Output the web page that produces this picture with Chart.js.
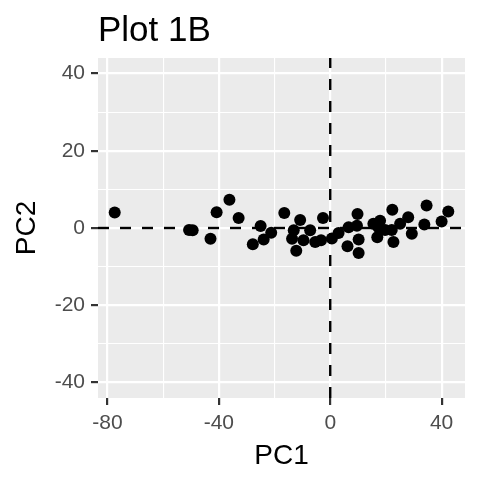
<!DOCTYPE html>
<html>
<head>
<meta charset="utf-8">
<script src="https://cdn.jsdelivr.net/npm/chart.js@4"></script>
<style>
  html, body { margin: 0; padding: 0; background: #fff; }
  #wrap { width: 480px; height: 480px; }
</style>
</head>
<body>
<div id="wrap"><canvas id="c" width="480" height="480"></canvas></div>
<script>
// scores
const pc1 = [-77.4, -50.7, -49.4, -43.0, -40.8, -36.2, -32.9, -27.8, -25.0, -23.9, -21.2,
  -16.5, -10.8, -13.1, -13.7, -12.2, -9.6, -7.2, -5.4, -3.3, -2.6, 0.6, 3.0, 6.6, 9.6,
  9.8, 10.2, 6.2, 10.2, 15.5, 17.9, 17.3, 16.9, 19.7, 22.3, 22.7, 25.1, 28.0, 29.3, 33.8,
  34.6, 40.0, 42.4, 22.1];
const pc2 = [4.0, -0.5, -0.6, -2.8, 4.1, 7.3, 2.6, -4.2, 0.5, -3.0, -1.2,
  3.9, 2.1, -0.6, -2.8, -5.9, -3.2, -0.6, -3.6, -3.2, 2.6, -2.7, -1.3, 0.2, 0.6,
  3.6, -3.0, -4.7, -6.5, 1.1, 1.9, 0.2, -2.4, -0.5, 4.7, -3.6, 1.1, 2.8, -1.5, 0.9,
  5.8, 1.7, 4.3, -0.5];

const xTicks = [-80, -60, -40, -20, 0, 20, 40];
const xMajor = [-80, -40, 0, 40];
const yTicks = [-40, -30, -20, -10, 0, 10, 20, 30, 40];
const yMajor = [-40, -20, 0, 20, 40];
const xRange = [-83.4, 48.4];
const yRange = [-44, 44];

const FONT = "'Liberation Sans', Arial, Helvetica, sans-serif";

const panelBg = {
  id: 'panelBg',
  beforeDraw(chart) {
    const { ctx, chartArea: a } = chart;
    ctx.save();
    ctx.fillStyle = '#EBEBEB';
    ctx.fillRect(a.left, a.top, a.width, a.height);
    ctx.restore();
  },
};

// dashed reference lines at PC1 = 0 and PC2 = 0
const zeroLines = {
  id: 'zeroLines',
  afterDatasetsDraw(chart) {
    const { ctx, chartArea: a, scales: { x, y } } = chart;
    ctx.save();
    ctx.beginPath(); ctx.rect(a.left, a.top, a.width, a.height); ctx.clip();
    ctx.strokeStyle = '#000'; ctx.lineWidth = 2.4; ctx.setLineDash([11, 11]);
    const y0 = y.getPixelForValue(0);
    ctx.beginPath(); ctx.moveTo(a.left, y0); ctx.lineTo(a.right, y0); ctx.stroke();
    const x0 = x.getPixelForValue(0);
    ctx.beginPath(); ctx.moveTo(x0, a.bottom); ctx.lineTo(x0, a.top); ctx.stroke();
    ctx.restore();
  },
};

function axis(ticks, major, range, titleText, titlePad) {
  const isMajor = (v) => major.includes(v);
  return {
    type: 'linear',
    min: range[0], max: range[1],
    afterBuildTicks: (s) => { s.ticks = ticks.map((v) => ({ value: v })); },
    border: { display: false },
    grid: {
      color: '#FFFFFF',
      lineWidth: (c) => (c.tick && isMajor(c.tick.value) ? 2.2 : 1.1),
      drawTicks: true,
      tickLength: 7,
      tickWidth: 2.2,
      tickColor: (c) => (c.tick && isMajor(c.tick.value) ? '#333333' : 'rgba(0,0,0,0)'),
    },
    ticks: {
      autoSkip: false, maxRotation: 0,
      color: '#4D4D4D',
      font: { family: FONT, size: 21 },
      padding: 6,
      callback: (v) => (isMajor(v) ? String(v) : ''),
    },
    title: {
      display: true, text: titleText, color: '#000',
      font: { family: FONT, size: 28 }, padding: titlePad,
    },
  };
}

const xAxis = axis(xTicks, xMajor, xRange, 'PC1', { top: 0, bottom: 7 });
xAxis.afterFit = (s) => { s.height = 82; };
const yAxis = axis(yTicks, yMajor, yRange, 'PC2', { top: 10, bottom: 0 });
yAxis.afterFit = (s) => { s.width = 98; };

new Chart(document.getElementById('c'), {
  type: 'scatter',
  data: {
    datasets: [{
      data: pc1.map((v, i) => ({ x: v, y: pc2[i] })),
      backgroundColor: '#000', borderWidth: 0,
      pointRadius: 6, pointHoverRadius: 6,
    }],
  },
  options: {
    responsive: false, animation: false,
    layout: { padding: { left: 0, right: 15, top: 0, bottom: 0 } },
    plugins: {
      legend: { display: false }, tooltip: { enabled: false },
      title: {
        display: true, text: 'Plot 1B', align: 'start', fullSize: false,
        color: '#000', font: { family: FONT, size: 35, weight: 'normal' },
        padding: { top: 10, bottom: 6 },
      },
    },
    scales: { x: xAxis, y: yAxis },
  },
  plugins: [panelBg, zeroLines],
});
</script>
</body>
</html>
